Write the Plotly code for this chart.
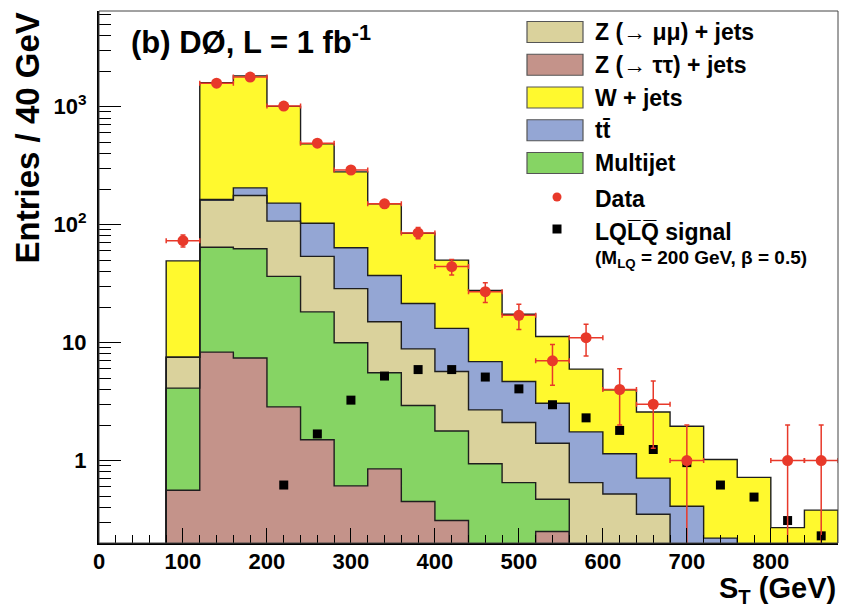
import numpy as np
import plotly.graph_objects as go

# S_T binning (GeV)
bin_edges = np.arange(80, 881, 40)
bin_centers = (bin_edges[:-1] + bin_edges[1:]) / 2
half_width = np.diff(bin_edges) / 2

# Expected background per bin, listed in stacking order (bottom -> top)
z_tautau = [0.56, 8.3, 7.4, 2.85, 1.5, 0.61, 0.85, 0.45, 0.31, 0, 0, 0.25,
            0, 0, 0, 0, 0, 0, 0, 0]
multijet = [3.55, 56, 55, 33.5, 16.7, 9.35, 4.7, 2.48, 1.47, 0.94, 0.65, 0.22,
            0, 0, 0, 0, 0, 0, 0, 0]
z_mumu = [3.4, 97, 114, 70.5, 35.5, 18.7, 9.45, 5.9, 3.9, 1.75, 1.45, 0.93,
          0.65, 0.52, 0.35, 0, 0, 0, 0, 0]
ttbar = [0, 2, 28, 45, 49, 35, 22, 12.6, 7.5, 4.2, 2.57, 1.66,
         1.1, 0.62, 0.36, 0.41, 0.22, 0, 0, 0]
w_jets = [41.7, 1427, 1616, 852, 382, 216, 113, 63, 36.8, 20.8, 12.7, 8.2,
          4.2, 2.84, 1.87, 1.54, 0.8, 0.72, 0.27, 0.38]

# Observed events per bin
data_counts = [73, 1580, 1780, 1010, 489, 290, 150, 85, 44, 27, 17, 7,
               11, 4, 3, 1, 0, 0, 1, 1]

# LQ pair signal (M_LQ = 200 GeV, beta = 0.5)
signal_centers = [220, 260, 300, 340, 380, 420, 460, 500, 540, 580, 620,
                  660, 700, 740, 780, 820, 860]
signal_counts = [0.62, 1.68, 3.25, 5.2, 5.9, 5.9, 5.1, 4.05, 2.97, 2.3, 1.8,
                 1.24, 0.96, 0.62, 0.49, 0.31, 0.23]

C_TAUTAU = "#C4938A"
C_MULTIJET = "#86D464"
C_MUMU = "#DAD29C"
C_TTBAR = "#94A6D4"
C_WJETS = "#FFF92E"
C_DATA = "#E8392A"

stack = [
    ("Z (→ ττ) + jets", z_tautau, C_TAUTAU),
    ("Multijet", multijet, C_MULTIJET),
    ("Z (→ μμ) + jets", z_mumu, C_MUMU),
    ("tt\u0304", ttbar, C_TTBAR),
    ("W + jets", w_jets, C_WJETS),
]

W, H = 847, 608
ML, MR, MT, MB = 99, 9, 11, 65
PW, PH = W - ML - MR, H - MT - MB

def px(xp):
    return (xp - ML) / PW

def py(yp):
    return (H - MB - yp) / PH

FONT = "Liberation Sans"
y_lo, y_hi = np.log10(0.2), 3.81
floor = 1e-3

fig = go.Figure()

# stacked filled histograms
for name, vals, col in stack:
    fig.add_trace(go.Bar(
        x=bin_centers, y=vals, width=np.diff(bin_edges),
        marker=dict(color=col, line=dict(width=0)),
        name=name, showlegend=False, hoverinfo="skip"))

# histogram outlines of each cumulative layer
cum = np.zeros(len(bin_centers))
for name, vals, col in stack:
    cum = cum + np.array(vals, dtype=float)
    top = np.where(cum > 0, cum, floor)
    xs = np.concatenate([[bin_edges[0]], bin_edges])
    ys = np.concatenate([[floor], top, [floor]])
    fig.add_trace(go.Scatter(
        x=xs, y=ys, mode="lines", line=dict(color="#1e1e1e", width=1.4, shape="hv"),
        showlegend=False, hoverinfo="skip"))

# signal
fig.add_trace(go.Scatter(
    x=signal_centers, y=signal_counts, mode="markers",
    marker=dict(symbol="square", size=9, color="black"),
    showlegend=False))

# data with Poisson errors
n = np.array(data_counts, dtype=float)
mask = n > 0
err_hi = np.sqrt(n[mask])
err_lo = np.minimum(np.sqrt(n[mask]), n[mask] * 0.999)
fig.add_trace(go.Scatter(
    x=bin_centers[mask], y=n[mask], mode="markers",
    marker=dict(symbol="circle", size=11, color=C_DATA),
    error_y=dict(type="data", array=err_hi, arrayminus=err_lo, symmetric=False,
                 color=C_DATA, thickness=1.5, width=2.5),
    error_x=dict(type="data", array=half_width[mask], color=C_DATA,
                 thickness=1.5, width=2.5),
    showlegend=False))

shapes = []
annotations = []

# frame on top/right
shapes.append(dict(type="rect", xref="paper", yref="paper", x0=0, x1=1, y0=0, y1=1,
                   line=dict(color="#444", width=1), layer="above"))

# legend
legend_entries = [
    ("Z (→ μμ) + jets", C_MUMU),
    ("Z (→ ττ) + jets", C_TAUTAU),
    ("W + jets", C_WJETS),
    ("tt\u0304", C_TTBAR),
    ("Multijet", C_MULTIJET),
]
row0, dy = 32, 32.75
for i, (label, col) in enumerate(legend_entries):
    yc = row0 + i * dy
    shapes.append(dict(type="rect", xref="paper", yref="paper",
                       x0=px(527), x1=px(583), y0=py(yc + 10.5), y1=py(yc - 10.5),
                       fillcolor=col, line=dict(color="#555", width=1.2), layer="above"))
    annotations.append(dict(text=label, xref="paper", yref="paper", x=px(593), y=py(yc),
                            xanchor="left", yanchor="middle", showarrow=False,
                            font=dict(family=FONT, size=23, color="black", weight="bold")))

yd = 197
shapes.append(dict(type="circle", xref="paper", yref="paper", xsizemode="pixel",
                   ysizemode="pixel", xanchor=px(557), yanchor=py(yd),
                   x0=-4.5, x1=4.5, y0=-4.5, y1=4.5,
                   fillcolor=C_DATA, line=dict(width=0), layer="above"))
annotations.append(dict(text="Data", xref="paper", yref="paper", x=px(593), y=py(yd + 2),
                        xanchor="left", yanchor="middle", showarrow=False,
                        font=dict(family=FONT, size=23, color="black", weight="bold")))
ys_ = 229
shapes.append(dict(type="rect", xref="paper", yref="paper", xsizemode="pixel",
                   ysizemode="pixel", xanchor=px(557), yanchor=py(ys_),
                   x0=-4.5, x1=4.5, y0=-4.5, y1=4.5,
                   fillcolor="black", line=dict(width=0), layer="above"))
annotations.append(dict(text="LQL\u0305Q\u0305 signal", xref="paper", yref="paper",
                        x=px(593), y=py(ys_ + 3), xanchor="left", yanchor="middle",
                        showarrow=False,
                        font=dict(family=FONT, size=23, color="black", weight="bold")))
annotations.append(dict(text="(M<sub>LQ</sub> = 200 GeV, β = 0.5)", xref="paper",
                        yref="paper", x=px(593), y=py(259), xanchor="left",
                        yanchor="middle", showarrow=False,
                        font=dict(family=FONT, size=19, color="black", weight="bold")))

# experiment label
annotations.append(dict(text="(b) DØ, L = 1 fb<sup>-1</sup>", xref="paper", yref="paper",
                        x=px(129), y=py(40), xanchor="left", yanchor="middle",
                        showarrow=False,
                        font=dict(family=FONT, size=31, color="black", weight="bold")))

# axis titles
annotations.append(dict(text="S<sub>T</sub> (GeV)", xref="paper", yref="paper",
                        x=1.0, y=py(590), xanchor="right", yanchor="middle",
                        showarrow=False,
                        font=dict(family=FONT, size=29, color="black", weight="bold")))
annotations.append(dict(text="Entries / 40 GeV", xref="paper", yref="paper",
                        x=px(27), y=py(11), xanchor="center", yanchor="top",
                        textangle=-90, showarrow=False,
                        font=dict(family=FONT, size=33, color="black", weight="bold")))

minor_y = [m * 10.0 ** k for k in range(-1, 4) for m in range(2, 10)
           if np.log10(m * 10.0 ** k) < y_hi]

fig.update_layout(
    width=W, height=H,
    margin=dict(l=ML, r=MR, t=MT, b=MB),
    paper_bgcolor="white", plot_bgcolor="white",
    barmode="stack", bargap=0,
    showlegend=False,
    shapes=shapes, annotations=annotations,
    font=dict(family=FONT, color="black"),
    xaxis=dict(range=[0, 880], tickvals=list(range(0, 801, 100)),
               ticks="inside", ticklen=15, tickwidth=1.3, tickcolor="black",
               minor=dict(dtick=20, tick0=0, ticks="inside", ticklen=8,
                          tickcolor="black", tickwidth=1),
               showline=True, linewidth=2, linecolor="black", mirror=False,
               showgrid=False, zeroline=False,
               tickfont=dict(family=FONT, size=22, color="black", weight="bold"),
               ticklabelstandoff=-2),
    yaxis=dict(type="log", range=[y_lo, y_hi],
               tickvals=[1, 10, 100, 1000],
               ticktext=["1", "10", "10<sup>2</sup>", "10<sup>3</sup>"],
               ticks="inside", ticklen=22, tickwidth=1.3, tickcolor="black",
               minor=dict(tickvals=minor_y, ticks="inside", ticklen=12,
                          tickcolor="black", tickwidth=1),
               showline=True, linewidth=2, linecolor="black", mirror=False,
               showgrid=False, zeroline=False,
               tickfont=dict(family=FONT, size=22, color="black", weight="bold"),
               ticklabelstandoff=6),
)

fig.write_html("out.html")
